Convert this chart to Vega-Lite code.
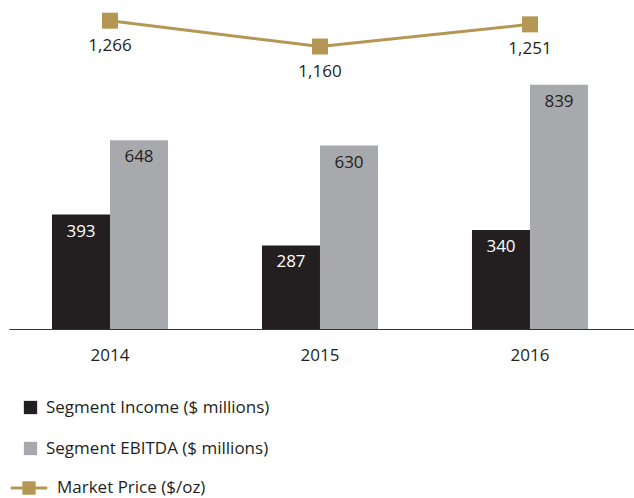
{
  "$schema": "https://vega.github.io/schema/vega-lite/v6.json",
  "width": 625,
  "height": 329,
  "padding": {"left": 9, "top": 0, "right": 0, "bottom": 0},
  "background": "white",
  "config": {
    "view": {"stroke": null},
    "font": "Open Sans",
    "axis": {"grid": false},
    "legend": {"labelFont": "Open Sans", "labelFontSize": 17, "labelColor": "#231f20", "padding": 0, "labelLimit": 0}
  },
  "datasets": {
    "bars": [
      {"year": "2014", "series": "Segment Income ($ millions)", "value": 393},
      {"year": "2014", "series": "Segment EBITDA ($ millions)", "value": 648},
      {"year": "2015", "series": "Segment Income ($ millions)", "value": 287},
      {"year": "2015", "series": "Segment EBITDA ($ millions)", "value": 630},
      {"year": "2016", "series": "Segment Income ($ millions)", "value": 340},
      {"year": "2016", "series": "Segment EBITDA ($ millions)", "value": 839}
    ],
    "price": [
      {"year": "2014", "price": 1266},
      {"year": "2015", "price": 1160},
      {"year": "2016", "price": 1251}
    ]
  },
  "encoding": {
    "x": {
      "field": "year", "type": "nominal", "sort": null,
      "scale": {"paddingInner": 0.4476, "paddingOuter": 0.2119, "align": 0.483},
      "axis": {"title": null, "labelAngle": 0, "ticks": false, "labelPadding": 18, "labelFontSize": 17, "labelColor": "#231f20", "labelFont": "Open Sans", "domainColor": "#333333", "domainWidth": 1}
    }
  },
  "layer": [
    {
      "layer": [
        {
          "data": {"name": "bars"},
          "mark": {"type": "bar"},
          "encoding": {
            "xOffset": {"field": "series", "type": "nominal", "sort": ["Segment Income ($ millions)", "Segment EBITDA ($ millions)"], "scale": {"paddingInner": 0, "paddingOuter": 0}},
            "y": {"field": "value", "type": "quantitative", "scale": {"domain": [0, 1130]}, "axis": null},
            "color": {
              "field": "series", "type": "nominal",
              "scale": {"domain": ["Segment Income ($ millions)", "Segment EBITDA ($ millions)"], "range": ["#231f20", "#a7a9ac"]},
              "legend": {"title": null, "orient": "none", "legendX": 13, "legendY": 399, "symbolType": "square", "symbolSize": 177, "symbolStrokeWidth": 0, "rowPadding": 23, "labelOffset": 7, "labelLimit": 0, "direction": "vertical"}
            }
          }
        },
        {
          "data": {"name": "bars"},
          "mark": {"type": "text", "baseline": "alphabetic", "dy": 22, "fontSize": 17, "font": "Open Sans"},
          "encoding": {
            "xOffset": {"field": "series", "type": "nominal", "sort": ["Segment Income ($ millions)", "Segment EBITDA ($ millions)"]},
            "y": {"field": "value", "type": "quantitative", "scale": {"domain": [0, 1130]}, "axis": null},
            "text": {"field": "value", "type": "quantitative"},
            "color": {"condition": {"test": "datum.series === 'Segment Income ($ millions)'", "value": "#ffffff"}, "value": "#231f20"}
          }
        }
      ]
    },
    {
      "layer": [
        {
          "data": {"name": "price"},
          "mark": {"type": "line", "strokeWidth": 3},
          "encoding": {
            "y": {"field": "price", "type": "quantitative", "scale": {"domain": [0, 1351]}, "axis": null},
            "stroke": {
              "datum": "Market Price ($/oz)",
              "scale": {"range": ["#b59755"]},
              "legend": {
                "title": null, "orient": "none", "legendX": 0, "legendY": 468,
                "symbolType": "M-1,0H1M-0.283,-0.283H0.283V0.283H-0.283Z",
                "symbolSize": 1325, "symbolStrokeWidth": 3,
                "symbolFillColor": "#b59755", "symbolStrokeColor": "#b59755",
                "labelOffset": 8, "labelLimit": 0,
                "encode": {"symbols": {"update": {"fill": {"value": "#b59755"}, "stroke": {"value": "#b59755"}, "strokeWidth": {"value": 3}, "opacity": {"value": 1}}}}
              }
            }
          }
        },
        {
          "data": {"name": "price"},
          "mark": {"type": "square", "size": 256, "color": "#b59755", "opacity": 1},
          "encoding": {
            "y": {"field": "price", "type": "quantitative", "scale": {"domain": [0, 1351]}, "axis": null}
          }
        },
        {
          "data": {"name": "price"},
          "mark": {"type": "text", "baseline": "alphabetic", "dy": 30, "fontSize": 17, "font": "Open Sans", "color": "#231f20"},
          "encoding": {
            "y": {"field": "price", "type": "quantitative", "scale": {"domain": [0, 1351]}, "axis": null},
            "text": {"field": "price", "type": "quantitative", "format": ",d"}
          }
        }
      ]
    }
  ],
  "resolve": {"scale": {"y": "independent"}}
}
